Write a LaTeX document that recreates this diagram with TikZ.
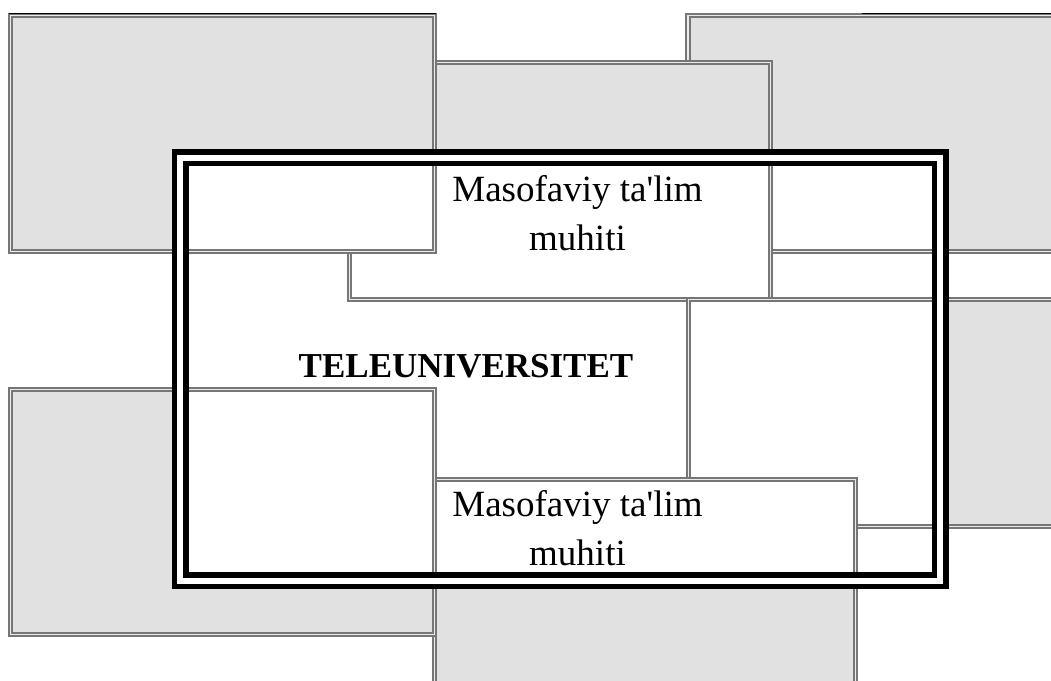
\documentclass[tikz,border=0pt]{standalone}
\usepackage{fontspec}
\setmainfont{Liberation Serif}
\definecolor{blkfill}{RGB}{225,225,225}
\definecolor{blkline}{RGB}{118,118,118}
\tikzset{
  blk/.style={draw=blkline, line width=1.8pt, double=white!92!black, double distance=1.5pt},
  framebox/.style={draw=black, line width=5.5pt, double=white, double distance=6pt},
  lbl/.style={font=\fontsize{37}{49}\selectfont, align=center, inner sep=0pt},
  ttl/.style={font=\fontsize{35}{42}\selectfont\bfseries, inner sep=0pt}
}
\newcommand\myblock[4]{%
  \fill[blkfill] (#1,#2) rectangle (#3,#4);
  \begin{scope}
    \clip (180,157.5) rectangle (940,580.5);
    \fill[white] (#1,#2) rectangle (#3,#4);
  \end{scope}
  \draw[blk] (#1,#2) rectangle (#3,#4);
}
\begin{document}
\begin{tikzpicture}[x=1pt,y=-1pt]
\useasboundingbox (0,0) rectangle (1051,680);
\fill[white] (0,0) rectangle (1051,680);
\clip (0,0) rectangle (1051,680);
% blocks in stacking order
\myblock{688}{15.5}{1065}{251.5}
\myblock{349.5}{62.5}{770.5}{299.5}
\myblock{10.5}{15.5}{434.5}{251.5}
\myblock{688.5}{299.5}{1065}{526.5}
\myblock{434.5}{479.5}{855.5}{700}
\myblock{10.5}{389.5}{434.5}{634.5}
% dark top edges
\draw[black, line width=1pt] (9,13) -- (436,13);
\draw[black, line width=1pt] (862,13) -- (1051,13);
% frame
\draw[framebox] (180,157.5) rectangle (940,580.5);
% texts
\node[lbl, anchor=base] (top) at (577.5,250) {Masofaviy ta\textquotesingle lim\\muhiti};
\node[ttl, anchor=base] (tele) at (466,377) {TELEUNIVERSITET};
\node[lbl, anchor=base] (bottom) at (577.5,565) {Masofaviy ta\textquotesingle lim\\muhiti};
\end{tikzpicture}
\end{document}
